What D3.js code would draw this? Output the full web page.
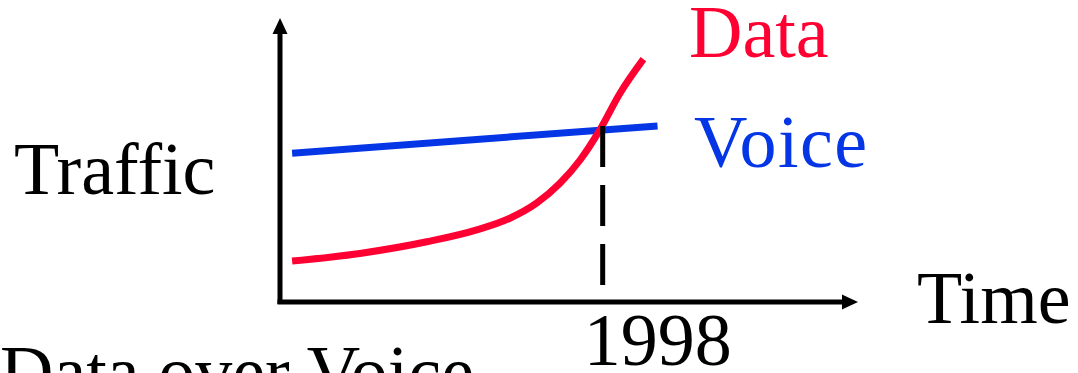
<!DOCTYPE html>
<html>
<head>
<meta charset="utf-8">
<script src="https://cdn.jsdelivr.net/npm/d3@7"></script>
<style>
  html, body { margin: 0; padding: 0; background: #fff; overflow: hidden; }
  svg { display: block; }
  text { font-family: "Liberation Serif", "Times New Roman", Times, serif; }
</style>
</head>
<body>
<svg id="chart" width="1078" height="373"></svg>
<script>
// Time in years, traffic in relative units (0–100)
const voiceYears = [1990.3, 1999.36];
const voiceTraffic = [52.4, 62.0];

const dataYears = [1990.3, 1991.98, 1993.64, 1994.88, 1995.7, 1996.36, 1996.94, 1997.44, 1997.93, 1998.43, 1999.01];
const dataTraffic = [14.4, 17.1, 21.2, 25.4, 29.5, 34.8, 41.8, 50.0, 60.6, 73.5, 85.5];

const crossoverYear = [1998];
const crossoverSpan = [5.6, 62.0];
const tickLabels = ["1998"];

const RED = "#ff0033", BLUE = "#0536e6";

const svg = d3.select("#chart");

const x = d3.scaleLinear().domain([1990, 2004.33]).range([280, 858]);
const y = d3.scaleLinear().domain([0, 100]).range([302, 18]);

const line = d3.line().x(d => x(d[0])).y(d => y(d[1]));

// Voice traffic: a slow linear climb
svg.append("path")
  .datum(d3.zip(voiceYears, voiceTraffic))
  .attr("d", line)
  .attr("fill", "none")
  .attr("stroke", BLUE)
  .attr("stroke-width", 7);

// Data traffic: exponential-looking growth
svg.append("path")
  .datum(d3.zip(dataYears, dataTraffic))
  .attr("d", line.curve(d3.curveMonotoneX))
  .attr("fill", "none")
  .attr("stroke", RED)
  .attr("stroke-width", 7);

// Dashed marker at the crossover year
svg.append("line")
  .attr("x1", x(crossoverYear[0])).attr("x2", x(crossoverYear[0]))
  .attr("y1", y(crossoverSpan[1])).attr("y2", y(crossoverSpan[0]))
  .attr("stroke", "#000")
  .attr("stroke-width", 5)
  .attr("stroke-dasharray", "41,18");

// Axes with arrowheads
const [x0, x1] = x.range();
const [y0, y1] = y.range();
svg.append("line")
  .attr("x1", x0).attr("x2", x0)
  .attr("y1", y0 + 2).attr("y2", y1 + 12)
  .attr("stroke", "#000").attr("stroke-width", 5);
svg.append("line")
  .attr("x1", x0 - 2.5).attr("x2", x1 - 12)
  .attr("y1", y0).attr("y2", y0)
  .attr("stroke", "#000").attr("stroke-width", 5);
svg.append("path")
  .attr("d", `M${x0},${y1} L${x0 + 7.5},${y1 + 16} L${x0 - 7.5},${y1 + 16} Z`)
  .attr("fill", "#000");
svg.append("path")
  .attr("d", `M${x1},${y0} L${x1 - 16},${y0 - 7.5} L${x1 - 16},${y0 + 7.5} Z`)
  .attr("fill", "#000");

// Labels
const fs = 74;
svg.append("text").attr("x", 689).attr("y", 57).attr("fill", RED)
  .attr("font-size", fs).text("Data");
svg.append("text").attr("x", 694).attr("y", 167).attr("fill", BLUE)
  .attr("font-size", fs).attr("letter-spacing", 1.5).text("Voice");
svg.append("text").attr("x", 14).attr("y", 194).attr("fill", "#000")
  .attr("font-size", fs).text("Traffic");
svg.append("text").attr("x", 917).attr("y", 323).attr("fill", "#000")
  .attr("font-size", fs).text("Time");
svg.selectAll("text.tick")
  .data(tickLabels)
  .join("text")
  .attr("class", "tick")
  .attr("x", d => x(+d) - 19)
  .attr("y", 365)
  .attr("fill", "#000")
  .attr("font-size", fs)
  .text(d => d);
svg.append("text").attr("x", 0).attr("y", 397).attr("fill", "#000")
  .attr("font-size", fs).text("Data over Voice");
</script>
</body>
</html>
